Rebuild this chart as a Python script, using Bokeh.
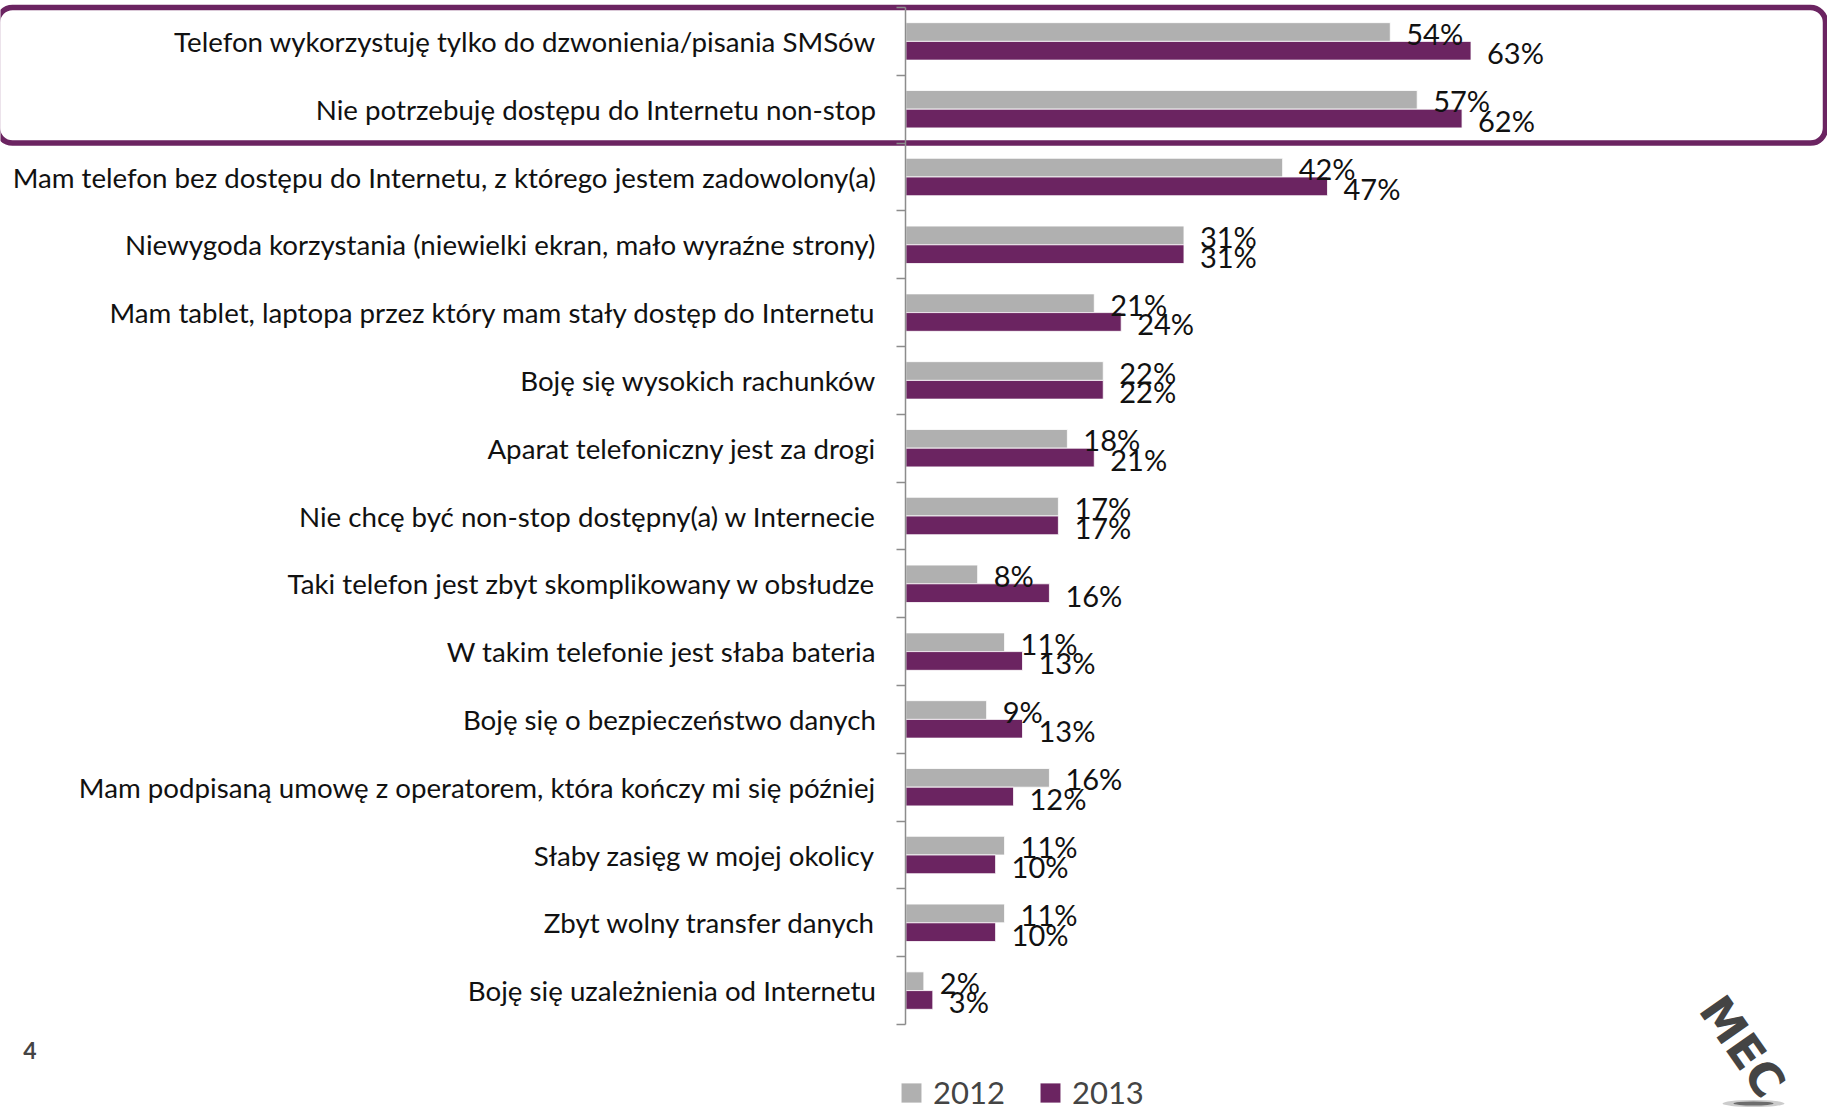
from bokeh.plotting import figure
from bokeh.models import Range1d, ColumnDataSource, Legend, LegendItem, Label, FixedTicker
from bokeh.core.properties import value
from bokeh.embed import file_html
from bokeh.resources import INLINE

categories = [
    "Telefon wykorzystuję tylko do dzwonienia/pisania SMSów",
    "Nie potrzebuję dostępu do Internetu non-stop",
    "Mam telefon bez dostępu do Internetu, z którego jestem zadowolony(a)",
    "Niewygoda korzystania (niewielki ekran, mało wyraźne strony)",
    "Mam tablet, laptopa przez który mam stały dostęp do Internetu",
    "Boję się wysokich rachunków",
    "Aparat telefoniczny jest za drogi",
    "Nie chcę być non-stop dostępny(a) w Internecie",
    "Taki telefon jest zbyt skomplikowany w obsłudze",
    "W takim telefonie jest słaba bateria",
    "Boję się o bezpieczeństwo danych",
    "Mam podpisaną umowę z operatorem, która kończy mi się później",
    "Słaby zasięg w mojej okolicy",
    "Zbyt wolny transfer danych",
    "Boję się uzależnienia od Internetu",
]
values_2012 = [54, 57, 42, 31, 21, 22, 18, 17, 8, 11, 9, 16, 11, 11, 2]
values_2013 = [63, 62, 47, 31, 24, 22, 21, 17, 16, 13, 13, 12, 10, 10, 3]
series_names = ["2012", "2013"]
highlighted = categories[:2]
page_number = "4"
logo_text = "MEC"

GREY = "#b0b0b0"
PURPLE = "#6b2461"
AXIS_C = "#8c8c8c"
FONT = "Lato"

W, H = 1827, 1112
PX_PER_PCT = 8.97      # pixels per percentage point
AXIS_PX = 905.4        # axis position from the left
BAND = 67.8            # pixels per category
TOP_PX = 7.0           # top of first category band

N = len(categories)
pos = [N - i - 0.5 for i in range(N)]          # category centres, first on top
boundaries = [float(k) for k in range(N + 1)]

OFF = 0.138
BH = 0.276
src = ColumnDataSource(dict(
    cat=categories,
    y12=[y + OFF for y in pos],
    y13=[y - OFF for y in pos],
    v12=values_2012,
    v13=values_2013,
    l12=[f"{v}%" for v in values_2012],
    l13=[f"{v}%" for v in values_2013],
))

y_top = N + TOP_PX / BAND
y_bottom = N - (H - TOP_PX) / BAND
p = figure(width=W, height=H, output_backend="svg", toolbar_location=None,
           x_range=Range1d(-AXIS_PX / PX_PER_PCT, (W - AXIS_PX) / PX_PER_PCT),
           y_range=Range1d(y_bottom, y_top),
           x_axis_location=None, y_axis_location="left",
           min_border_left=0, min_border_right=0, min_border_top=0, min_border_bottom=0)
p.outline_line_color = None
p.grid.visible = False

ax = p.yaxis[0]
ax.fixed_location = 0
ax.bounds = (0, N)
ax.ticker = FixedTicker(ticks=pos, minor_ticks=boundaries)
ax.major_label_overrides = {y: c for y, c in zip(pos, categories)}
ax.axis_line_color = AXIS_C
ax.axis_line_width = 1.5
ax.major_tick_in = 0
ax.major_tick_out = 0
ax.minor_tick_in = 0
ax.minor_tick_out = 9
ax.minor_tick_line_color = AXIS_C
ax.minor_tick_line_width = 1.5
ax.major_label_standoff = 21
ax.major_label_text_font = FONT
ax.major_label_text_font_size = "27.7px"
ax.major_label_text_color = "#111111"

r12 = p.hbar(y="y12", left=0, right="v12", height=BH,
             fill_color=GREY, line_color="white", line_width=0.8, source=src)
r13 = p.hbar(y="y13", left=0, right="v13", height=BH,
             fill_color=PURPLE, line_color="white", line_width=0.8, source=src)

p.text(x="v12", y="y12", text="l12", x_offset=16, y_offset=1,
       text_align="left", text_baseline="middle", text_font=value(FONT),
       text_font_size="29px", text_color="#111111", source=src)
p.text(x="v13", y="y13", text="l13", x_offset=16, y_offset=2,
       text_align="left", text_baseline="middle", text_font=value(FONT),
       text_font_size="29px", text_color="#111111", source=src)

# highlight frame around the first two answers (edges run just past the page sides)
hi_top = pos[categories.index(highlighted[0])] + 0.5
hi_bottom = pos[categories.index(highlighted[-1])] - 0.5
p.quad(left=[(-3 - AXIS_PX) / PX_PER_PCT], right=[(1825 - AXIS_PX) / PX_PER_PCT],
       top=[hi_top], bottom=[hi_bottom],
       fill_alpha=0, line_color=PURPLE, line_width=5.5, border_radius=15)

legend = Legend(items=[LegendItem(label=series_names[0], renderers=[r12]),
                       LegendItem(label=series_names[1], renderers=[r13])],
                orientation="horizontal", location=(898, 1),
                glyph_width=26, glyph_height=25, label_standoff=9, spacing=32,
                padding=0, margin=0, border_line_alpha=0, background_fill_alpha=0,
                label_text_font=FONT, label_text_font_size="31px", label_height=25)
p.add_layout(legend)

p.add_layout(Label(x=29.5, y=H - 1050, x_units="screen", y_units="screen", text=page_number,
                   text_font=FONT, text_font_style="bold", text_font_size="23px",
                   text_align="center", text_baseline="middle"))
p.add_layout(Label(x=1742, y=H - 1046, x_units="screen", y_units="screen", text=logo_text,
                   angle=-55, angle_units="deg", text_font="DejaVu Sans",
                   text_font_style="bold", text_font_size="46px",
                   text_align="center", text_baseline="middle"))

# logo shadow
p.ellipse(x=[(1753 - AXIS_PX) / PX_PER_PCT], y=[N - (1103 - TOP_PX) / BAND],
          width=[62 / PX_PER_PCT], height=[7 / BAND], fill_color="#9a9a9a",
          fill_alpha=0.5, line_color=None)
p.ellipse(x=[(1753 - AXIS_PX) / PX_PER_PCT], y=[N - (1103 - TOP_PX) / BAND],
          width=[40 / PX_PER_PCT], height=[4 / BAND], fill_color="#444444",
          fill_alpha=0.7, line_color=None)

open("out.html", "w").write(file_html(p, INLINE))
